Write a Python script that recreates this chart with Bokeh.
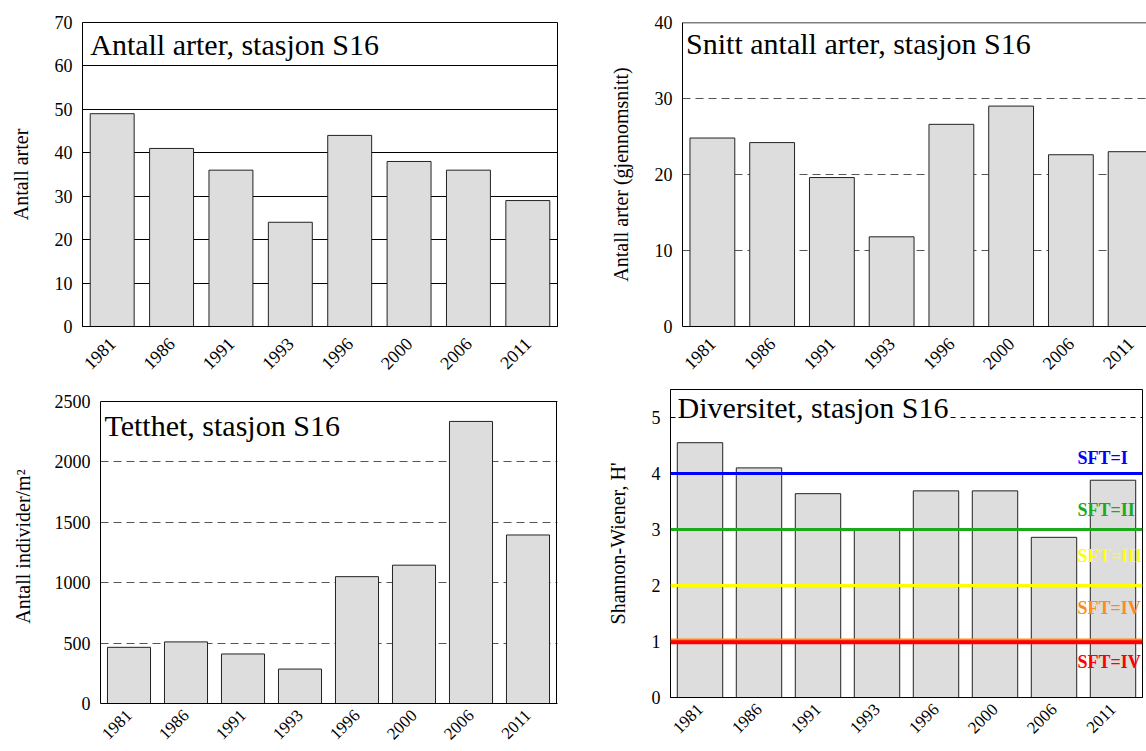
import math
from bokeh.plotting import figure
from bokeh.layouts import column, row
from bokeh.models import ColumnDataSource, FixedTicker, Span, Label, Range1d
from bokeh.embed import file_html
from bokeh.resources import INLINE

# ---------------- data ----------------
years = ["1981", "1986", "1991", "1993", "1996", "2000", "2006", "2011"]
antall_arter = [49, 41, 36, 24, 44, 38, 36, 29]
snitt_arter = [24.8, 24.2, 19.6, 11.8, 26.6, 29.0, 22.6, 23.0]
tetthet = [465, 510, 410, 285, 1050, 1145, 2335, 1395]
diversitet = [4.55, 4.10, 3.64, 3.01, 3.69, 3.69, 2.86, 3.88]
sft_levels = [4.0, 3.0, 2.0, 1.0, 1.0]
sft_names = ["SFT=I", "SFT=II", "SFT=III", "SFT=IV", "SFT=IV"]
sft_colors = ["#0000FF", "#1AAA1A", "#FFFF00", "#FF8C1A", "#FF0000"]

FONT = "Liberation Serif"
xpos = list(range(len(years)))


def make_fig(ymin, ymax, yticks, fw, fh, bl, br, bt, bb, xend, ylabel, label_standoff,
             xstandoff, xfont):
    p = figure(x_range=Range1d(-0.5, xend), y_range=Range1d(ymin, ymax),
               frame_width=fw, frame_height=fh,
               min_border_left=bl, min_border_right=br,
               min_border_top=bt, min_border_bottom=bb,
               toolbar_location=None, output_backend="svg", title=None,
               background_fill_color="white", border_fill_color="white")
    p.xgrid.grid_line_color = None
    p.ygrid.ticker = FixedTicker(ticks=yticks)
    p.outline_line_color = "black"
    p.outline_line_width = 1

    p.xaxis.ticker = FixedTicker(ticks=xpos)
    p.xaxis.major_label_overrides = {i: y for i, y in zip(xpos, years)}
    p.xaxis.major_label_orientation = math.pi / 4
    p.xaxis.major_label_standoff = xstandoff
    p.yaxis.ticker = FixedTicker(ticks=yticks)
    p.yaxis.major_label_standoff = 10
    for ax in (p.xaxis, p.yaxis):
        ax.major_tick_out = 0
        ax.major_tick_in = 0
        ax.minor_tick_out = 0
        ax.minor_tick_in = 0
        ax.axis_line_color = "black"
        ax.axis_line_width = 1
        ax.major_label_text_font = FONT
        ax.major_label_text_color = "black"
    p.xaxis.major_label_text_font_size = xfont
    p.yaxis.major_label_text_font_size = "18px"
    p.yaxis.axis_label = ylabel
    p.yaxis.axis_label_text_font = FONT
    p.yaxis.axis_label_text_font_style = "normal"
    p.yaxis.axis_label_text_font_size = "20px"
    p.yaxis.axis_label_text_color = "black"
    p.yaxis.axis_label_standoff = label_standoff
    return p


def add_bars(p, values, width):
    src = ColumnDataSource(dict(x=xpos, top=values))
    p.vbar(x="x", top="top", width=width, source=src,
           fill_color="#DDDDDD", line_color="#222222", line_width=1)


def add_title(p, text, x, y, bg=None):
    p.add_layout(Label(x=x, y=y, text=text, text_font=FONT, text_font_size="30px",
                       text_color="black", text_baseline="alphabetic",
                       background_fill_color=bg))


# ---------- panel 1: Antall arter ----------
p1 = make_fig(0, 70, list(range(0, 71, 10)), 475, 304, 82, 35, 22, 55, 7.5,
              "Antall arter", 20, 14, "18px")
p1.ygrid.grid_line_color = "black"
p1.ygrid.grid_line_width = 1
add_bars(p1, antall_arter, 0.74)
add_title(p1, "Antall arter, stasjon S16", -0.37, 64.9)

# ---------- panel 2: Snitt antall arter ----------
p2 = make_fig(0, 40, list(range(0, 41, 10)), 464, 304, 90, 0, 22, 55, -0.5 + 464 / 59.75,
              "Antall arter (gjennomsnitt)", 20, 14, "18px")
p2.outline_line_color = None
p2.ygrid.grid_line_color = "#555555"
p2.ygrid.grid_line_dash = "8 5"
p2.add_layout(Span(location=40, dimension="width", line_color="black", line_width=1.5))
add_bars(p2, snitt_arter, 0.75)
add_title(p2, "Snitt antall arter, stasjon S16", -0.44, 37.3)

# ---------- panel 3: Tetthet ----------
# frame extends 12px above the 2500 line so that its top matches the neighbour panel
p3_top = 2500 * 314 / 302
p3 = make_fig(0, p3_top, list(range(0, 2501, 500)), 457, 314, 100, 13, 8, 48,
              -0.5 + 457 / 57, "Antall individer/m²", 18, 9, "17px")
p3.outline_line_color = None
p3.yaxis.bounds = (0, 2500)
p3.ygrid.grid_line_color = "#555555"
p3.ygrid.grid_line_dash = "8 5"
p3.add_layout(Span(location=2500, dimension="width", line_color="black", line_width=1))
p3.segment(x0=[7.5], y0=[0], x1=[7.5], y1=[2500], line_color="black", line_width=1)
add_bars(p3, tetthet, 0.755)
add_title(p3, "Tetthet, stasjon S16", -0.43, 2301)

# ---------- panel 4: Diversitet ----------
p4 = make_fig(0, 5.5, list(range(0, 6)), 472, 308, 100, 4, 8, 54, 7.5,
              "Shannon-Wiener, H'", 20, 9, "17px")
p4.ygrid.grid_line_color = "black"
p4.ygrid.grid_line_dash = "5 5"
add_bars(p4, diversitet, 0.77)
label_offsets = [0.28, 0.35, 0.52, 0.6, -0.36]
widths = [3, 3, 3, 4, 4]
shifts = [0, 0, 0, 0.02, -0.015]
for lvl, name, col, off, w, sh in zip(sft_levels, sft_names, sft_colors, label_offsets, widths, shifts):
    p4.add_layout(Span(location=lvl + sh, dimension="width", line_color=col, line_width=w))
    p4.add_layout(Label(x=6.4, y=lvl + off, text=name, text_font=FONT,
                        text_font_size="18px", text_font_style="bold",
                        text_color=col, text_baseline="alphabetic"))
add_title(p4, "Diversitet, stasjon S16", -0.38, 5.18, bg="white")

layout = column(row(p1, p2), row(p3, p4))
open("out.html", "w").write(file_html(layout, INLINE))
